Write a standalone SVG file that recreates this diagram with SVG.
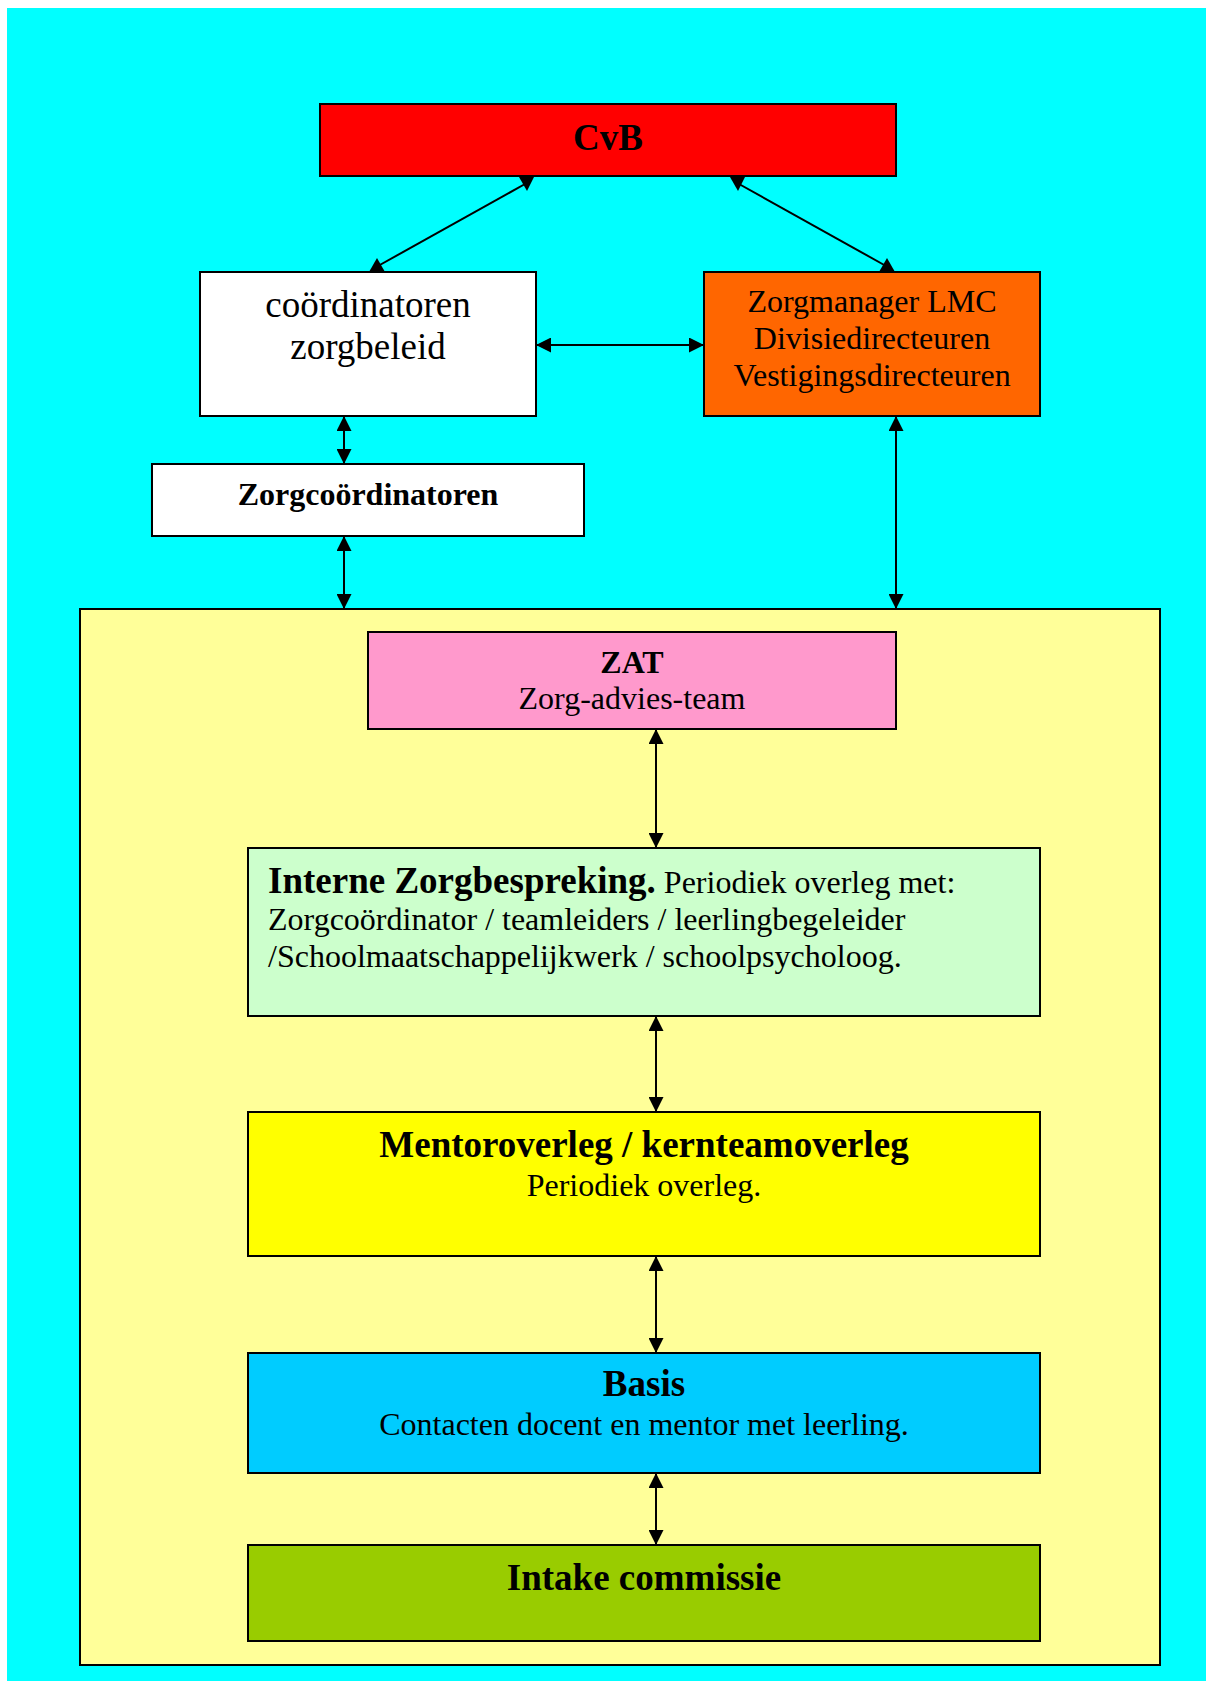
<svg xmlns="http://www.w3.org/2000/svg" width="1206" height="1681" viewBox="0 0 1206 1681">
<defs>
<style>
.box{stroke:#000;stroke-width:2}
.t{font-family:"Liberation Serif","Times New Roman",serif;fill:#000}
.b{font-weight:bold}
.c{text-anchor:middle}
.s32{font-size:32px}
.s37{font-size:37px}
.conn line{stroke:#000;stroke-width:2}
.conn line.dbl{marker-start:url(#ah);marker-end:url(#ah)}
.conn polygon{fill:#000}
</style>
<marker id="ah" viewBox="0 0 15 15" markerWidth="15" markerHeight="15" refX="15" refY="7.5" orient="auto-start-reverse" markerUnits="userSpaceOnUse">
<path d="M0,0 L15,7.5 L0,15 z" fill="#000"/>
</marker>
</defs>
<rect x="0" y="0" width="1206" height="1681" fill="#fff"/>
<rect x="7" y="8" width="1199" height="1673" fill="#00FFFF"/>

<g id="container">
<rect class="box" x="80" y="609" width="1080" height="1056" fill="#FFFF99"/>
</g>

<g id="cvb">
<rect class="box" x="320" y="104" width="576" height="72" fill="#FF0000"/>
<text class="t b c s37" x="608" y="150">CvB</text>
</g>

<g id="coordinatoren">
<rect class="box" x="200" y="272" width="336" height="144" fill="#FFFFFF"/>
<text class="t c s37" x="368" y="317">coördinatoren</text>
<text class="t c s37" x="368" y="359">zorgbeleid</text>
</g>

<g id="zorgmanager">
<rect class="box" x="704" y="272" width="336" height="144" fill="#FF6600"/>
<text class="t c s32" x="872" y="312">Zorgmanager LMC</text>
<text class="t c s32" x="872" y="349">Divisiedirecteuren</text>
<text class="t c s32" x="872" y="386">Vestigingsdirecteuren</text>
</g>

<g id="zorgcoordinatoren">
<rect class="box" x="152" y="464" width="432" height="72" fill="#FFFFFF"/>
<text class="t b c s32" x="368" y="505">Zorgcoördinatoren</text>
</g>

<g id="zat">
<rect class="box" x="368" y="632" width="528" height="97" fill="#FF99CC"/>
<text class="t b c s32" x="632" y="673">ZAT</text>
<text class="t c s32" x="632" y="709">Zorg-advies-team</text>
</g>

<g id="interne">
<rect class="box" x="248" y="848" width="792" height="168" fill="#CCFFCC"/>
<text class="t s32" x="268" y="893"><tspan class="b s37">Interne Zorgbespreking.</tspan> Periodiek overleg met:</text>
<text class="t s32" x="268" y="930">Zorgcoördinator / teamleiders / leerlingbegeleider</text>
<text class="t s32" x="268" y="967">/Schoolmaatschappelijkwerk / schoolpsycholoog.</text>
</g>

<g id="mentor">
<rect class="box" x="248" y="1112" width="792" height="144" fill="#FFFF00"/>
<text class="t b c s37" x="644" y="1157">Mentoroverleg / kernteamoverleg</text>
<text class="t c s32" x="644" y="1196">Periodiek overleg.</text>
</g>

<g id="basis">
<rect class="box" x="248" y="1353" width="792" height="120" fill="#00CCFF"/>
<text class="t b c s37" x="644" y="1396">Basis</text>
<text class="t c s32" x="644" y="1435">Contacten docent en mentor met leerling.</text>
</g>

<g id="intake">
<rect class="box" x="248" y="1545" width="792" height="96" fill="#99CC00"/>
<text class="t b c s37" x="644" y="1590">Intake commissie</text>
</g>

<g id="connectors" class="conn">
<line x1="525" y1="184" x2="378" y2="266"/>
<polygon points="519,177 534,177 527,191"/>
<polygon points="369,272 385,272 377,258"/>
<line x1="739" y1="184" x2="886" y2="266"/>
<polygon points="730,177 745,177 738,191"/>
<polygon points="879,272 895,272 887,258"/>
<line class="dbl" x1="536" y1="345" x2="704" y2="345"/>
<line class="dbl" x1="344" y1="416" x2="344" y2="464"/>
<line class="dbl" x1="344" y1="536" x2="344" y2="609"/>
<line class="dbl" x1="896" y1="416" x2="896" y2="609"/>
<line class="dbl" x1="656" y1="729" x2="656" y2="848"/>
<line class="dbl" x1="656" y1="1016" x2="656" y2="1112"/>
<line class="dbl" x1="656" y1="1256" x2="656" y2="1353"/>
<line class="dbl" x1="656" y1="1473" x2="656" y2="1545"/>
</g>
</svg>
